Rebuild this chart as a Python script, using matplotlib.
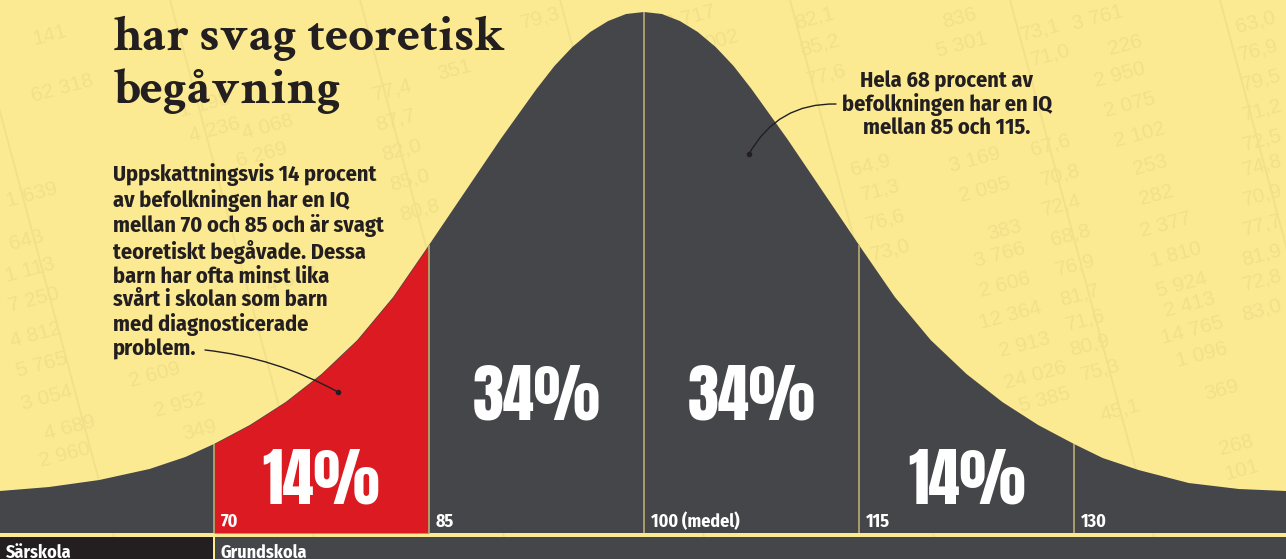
import matplotlib
matplotlib.use("Agg")
import matplotlib.pyplot as plt
from matplotlib import font_manager as fm
import numpy as np

# IQ scale and the bell curve (height in px above the bottom edge)
iq = [55.07, 58.5, 62, 65.5, 68, 70, 72.5, 75, 77.5, 80, 82.5, 85, 87.5, 90, 92.5,
      93.75, 95, 96.25, 97.5, 98.75, 100, 101.25, 102.5, 103.75, 105, 106.25, 107.5,
      110, 112.5, 115, 117.5, 120, 122.5, 125, 127.5, 130, 132, 134.5, 138, 141.5, 144.79]
height = [68, 72, 79, 90, 102, 115, 134, 157, 185, 219, 262, 314, 367, 420, 470,
          493, 512, 527, 538, 545, 547, 545, 538, 527, 512, 493, 470,
          420, 367, 314, 262, 219, 185, 157, 134, 115, 101, 89, 76, 70, 68]

bounds = [70, 85, 100, 115, 130]
bound_labels = ["70", "85", "100 (medel)", "115", "130"]
band_mid = [77.5, 92.5, 107.5, 122.5]
band_pct = ["14%", "34%", "34%", "14%"]
schools = ["Särskola", "Grundskola"]

title = "har svag teoretisk\nbegåvning"
note_left = ("Uppskattningsvis 14 procent\nav befolkningen har en IQ\nmellan 70 och 85 och är svagt\n"
             "teoretiskt begåvade. Dessa\nbarn har ofta minst lika\nsvårt i skolan som barn\n"
             "med diagnosticerade\nproblem.")
note_right = "Hela 68 procent av\nbefolkningen har en IQ\nmellan 85 och 115."

# faint table of numbers printed in the background
bg_text = ["141", "62 318", "1 639", "643", "1 113", "7 250", "4 812", "5 765", "3 054",
           "4 689", "2 960", "2 609", "2 952", "349", "1 198", "4 236", "4 068", "6 269",
           "77,4", "87,7", "82,0", "85,0", "80,8", "351", "79,3", "3 717", "002", "82,1",
           "85,2", "77,6", "836", "5 301", "73,1", "71,0", "3 761", "226", "2 950", "2 075",
           "2 102", "253", "282", "2 377", "1 810", "5 924", "2 413", "14 765", "1 096",
           "369", "268", "101", "63,0", "76,9", "79,5", "71,2", "72,5", "74,8", "70,9",
           "77,7", "81,9", "72,8", "83,0", "64,9", "71,3", "76,6", "73,0", "3 169",
           "2 095", "67,6", "70,8", "72,4", "68,8", "76,9", "81,7", "71,6", "80,9", "75,3",
           "45,1", "383", "3 766", "2 606", "12 364", "2 913", "24 026", "5 385", "4 607"]
bg_x = [50, 62, 32, 26, 30, 34, 36, 42, 47, 70, 65, 155, 180, 200, 205, 215, 268, 262,
        392, 396, 402, 410, 420, 455, 540, 690, 722, 815, 820, 826, 960, 962, 1040, 1050,
        1098, 1125, 1120, 1130, 1140, 1150, 1156, 1166, 1176, 1182, 1190, 1192, 1202,
        1222, 1236, 1242, 1256, 1258, 1261, 1262, 1262, 1262, 1262, 1262, 1262, 1262,
        1262, 870, 880, 885, 890, 975, 985, 1050, 1060, 1061, 1070, 1075, 1080, 1085,
        1090, 1100, 1120, 1005, 1000, 1005, 1010, 1025, 1035, 1045, 292]
bg_y = [35, 88, 195, 240, 270, 300, 335, 365, 398, 428, 455, 375, 405, 430, 105, 130,
        127, 155, 90, 120, 150, 180, 210, 70, 18, 18, 40, 18, 45, 75, 18, 45, 30, 55,
        18, 45, 75, 105, 135, 165, 195, 225, 255, 285, 305, 330, 355, 390, 445, 470, 22,
        50, 80, 110, 140, 165, 195, 225, 255, 280, 310, 165, 190, 220, 250, 160, 190,
        145, 175, 205, 235, 265, 295, 320, 345, 370, 410, 230, 255, 285, 315, 345, 375,
        400, 280]

YELLOW = "#fcea93"
FAINT = "#f2df8a"
DARK = "#454649"
RED = "#dc1a22"
INK = "#231f20"
RULE = "#b3a56f"


def pick(cands, bold=True):
    """First installed family that has a real bold (or regular) face."""
    for c in cands:
        for f in fm.fontManager.ttflist:
            w = f.weight if isinstance(f.weight, int) else 700 if "bold" in str(f.weight) else 400
            if f.name == c and (w >= 600) == bold and f.style == "normal":
                return [c, "DejaVu Sans"]
    return ["DejaVu Sans"]


SANS = pick(["Fira Sans Condensed", "Fira Sans", "Asap Condensed", "PT Sans", "Lato"])
COND = pick(["Fira Sans Condensed", "Asap Condensed", "PT Sans Narrow", "Fira Sans", "PT Sans"])
SERIF = pick(["Crimson Text", "PT Serif", "Libre Baskerville", "Liberation Serif"])
BIG = pick(["Anton", "Oswald"], bold=False)

iq = np.array(iq)
height = np.array(height)

fig = plt.figure(figsize=(12.86, 5.59), dpi=100, facecolor=YELLOW)

# pixel layer underneath for the background texture
tx = fig.add_axes([0, 0, 1, 1], zorder=-1)
tx.set_xlim(0, 1286)
tx.set_ylim(559, 0)
tx.axis("off")
for s, x, y in zip(bg_text, bg_x, bg_y):
    tx.text(x, y, s, fontsize=15, color=FAINT, rotation=15, ha="center", va="center",
            family=["Liberation Sans", "DejaVu Sans"])
for x0 in [-60, 140, 330, 530, 760, 980, 1190]:
    tx.plot([x0 + 30, x0 + 180], [0, 559], color=FAINT, lw=1.3)

ax = fig.add_axes([0, 0, 1, 1])
ax.set_xlim(iq[0], iq[-1])
ax.set_ylim(0, 559)
ax.axis("off")
ax.patch.set_alpha(0)

# bell curve
base = 26
ax.fill_between(iq, base, height, color=DARK, lw=0, zorder=2)
red = (iq >= bounds[0]) & (iq <= bounds[1])
ax.fill_between(iq, base, height, where=red, color=RED, lw=0, zorder=3)
ax.vlines(bounds, base, np.interp(bounds, iq, height), color=RULE, lw=1.3, zorder=4)

# school bar at the bottom
ax.fill_between([iq[0], bounds[0] - 0.07], 0, 22, color=INK, lw=0, zorder=2)
ax.fill_between([bounds[0] + 0.07, iq[-1]], 0, 22, color=DARK, lw=0, zorder=2)

for b, lab in zip(bounds, bound_labels):
    ax.annotate(lab, (b, base), xytext=(5, 4.5), textcoords="offset points",
                color="white", fontsize=13, fontweight="bold", family=COND, zorder=5)
ax.annotate(schools[0], (iq[0], 0), xytext=(4, 1), textcoords="offset points",
            color="white", fontsize=13, fontweight="bold", family=COND, zorder=5)
ax.annotate(schools[1], (bounds[0], 0), xytext=(5, 1), textcoords="offset points",
            color="white", fontsize=13, fontweight="bold", family=COND, zorder=5)

for m, p, yb in zip(band_mid, band_pct, [56, 139, 139, 56]):
    ax.text(m, yb, p, ha="center", va="baseline", color="white", fontsize=45,
            family=BIG, zorder=5)

# title and notes
fig.text(113 / 1286, 1 - 103 / 559, title, fontsize=36.5, fontweight="bold", color=INK,
         family=SERIF, va="baseline", linespacing=1.2)
fig.text(113 / 1286, 1 - 163 / 559, note_left, fontsize=16, fontweight="bold", color=INK,
         family=SANS, va="top", linespacing=1.14, zorder=6)
fig.text(947 / 1286, 1 - 71 / 559, note_right, fontsize=16, fontweight="bold", color=INK,
         family=SANS, va="top", ha="center", linespacing=1.05, zorder=6)

# pointer lines
ax2 = fig.add_axes([0, 0, 1, 1], zorder=7)
ax2.set_xlim(0, 1286)
ax2.set_ylim(559, 0)
ax2.axis("off")
ax2.annotate("", xy=(338, 392), xytext=(205, 350),
             arrowprops=dict(arrowstyle="-", connectionstyle="arc3,rad=-0.1", lw=1, color=INK,
                             shrinkA=0, shrinkB=0))
ax2.annotate("", xy=(749, 154), xytext=(836, 104),
             arrowprops=dict(arrowstyle="-", connectionstyle="arc3,rad=0.3", lw=1, color=INK,
                             shrinkA=0, shrinkB=0))
ax2.plot([338, 749], [392, 154], "o", ms=3, color=INK, ls="none")

fig.savefig("out.png", dpi=100, facecolor=YELLOW)
